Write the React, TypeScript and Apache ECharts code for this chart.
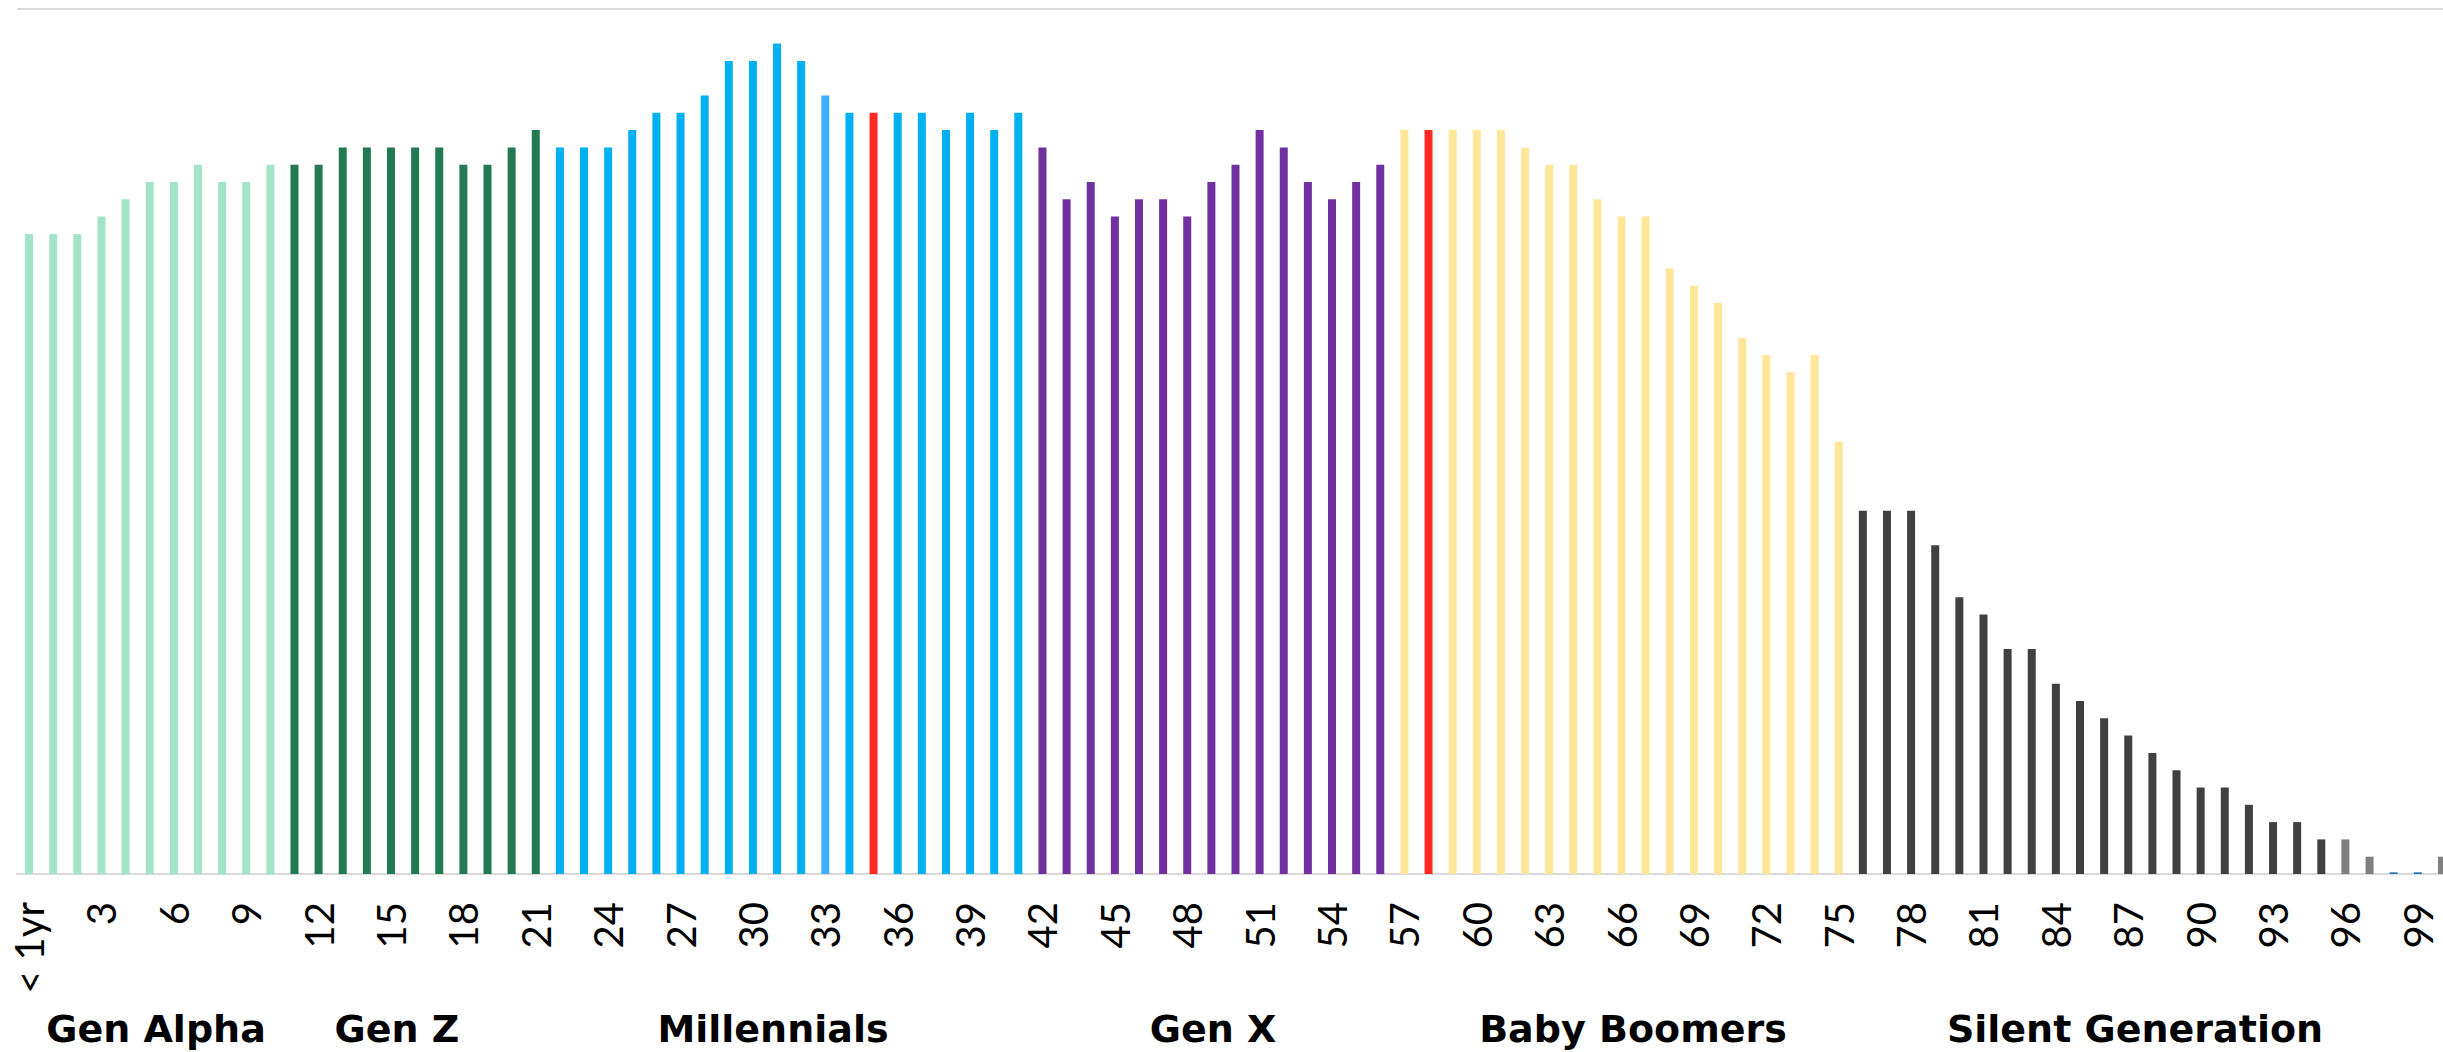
import React, { useEffect, useRef } from "react";
import * as echarts from "echarts";

// Ages 0..100 (index 0 shown as "< 1yr")
const ageLabels: string[] = Array.from({ length: 101 }, (_, i) => (i === 0 ? "< 1yr" : String(i)));

// Population by single year of age (relative units)
const genAlphaValues = [37, 37, 37, 38, 39, 40, 40, 41, 40, 40, 41]; // ages 0-10
const genZValues = [41, 41, 42, 42, 42, 42, 42, 41, 41, 42, 43]; // ages 11-21
const millennialValues = [42, 42, 42, 43, 44, 44, 45, 47, 47, 48, 47, 45, 44, 44, 44, 44, 43, 44, 43, 44]; // 22-41
const genXValues = [42, 39, 40, 38, 39, 39, 38, 40, 41, 43, 42, 40, 39, 40, 41]; // 42-56
const boomerValues = [43, 43, 43, 43, 43, 42, 41, 41, 39, 38, 38, 35, 34, 33, 31, 30, 29, 30, 25]; // 57-75
const silentValues = [21, 21, 21, 19, 16, 15, 13, 13, 11, 10, 9, 8, 7, 6, 5, 5, 4, 3, 3, 2, 2, 1, 0.1, 0.1, 1]; // 76-100

const generationNames = ["Gen Alpha", "Gen Z", "Millennials", "Gen X", "Baby Boomers", "Silent Generation"];
const generationSeries = [genAlphaValues, genZValues, millennialValues, genXValues, boomerValues, silentValues];

// Highlighted single ages
const redAges = [35, 58];
const lightBlueAges = [33];
const grayAges = [96, 97, 100];
const blueAges = [98, 99];

const generationColors = ["#A2E4C8", "#237A52", "#00B0F0", "#7030A0", "#FFE699", "#404040"];
const generationLabelX = [156, 397, 773, 1213, 1633, 2135];

export default function App() {
  const ref = useRef<HTMLDivElement>(null);

  useEffect(() => {
    if (!ref.current) return;
    document.body.style.overflow = "hidden";
    const chart = echarts.init(ref.current, undefined, { renderer: "svg" });

    const data: any[] = [];
    generationSeries.forEach((vals, g) => {
      vals.forEach((v) => {
        const age = data.length;
        let color = generationColors[g];
        if (redAges.includes(age)) color = "#FF2A22";
        else if (lightBlueAges.includes(age)) color = "#41AEFF";
        else if (grayAges.includes(age)) color = "#808080";
        else if (blueAges.includes(age)) color = "#2E75B6";
        data.push({ value: v, itemStyle: { color } });
      });
    });

    chart.setOption({
      animation: false,
      backgroundColor: "#FFFFFF",
      grid: { left: 17, right: 0, top: 9, bottom: 178, containLabel: false },
      xAxis: {
        type: "category",
        data: ageLabels,
        boundaryGap: true,
        axisLine: { show: true, lineStyle: { color: "#D9D9D9", width: 2 } },
        axisTick: { show: false },
        axisLabel: {
          interval: 2,
          rotate: 90,
          margin: 28,
          fontFamily: "Lato",
          fontSize: 40,
          color: "#000000",
        },
      },
      yAxis: {
        type: "value",
        min: 0,
        max: 50,
        interval: 50,
        axisLabel: { show: false },
        axisLine: { show: false },
        axisTick: { show: false },
        splitLine: { show: true, lineStyle: { color: "#D9D9D9", width: 2 } },
      },
      series: [
        {
          type: "bar",
          data,
          barWidth: 8,
        },
      ],
      graphic: generationNames.map((name, i) => ({
        type: "text",
        x: generationLabelX[i],
        y: 1029,
        style: {
          text: name,
          fontFamily: "DejaVu Sans",
          fontWeight: "bold",
          fontSize: 38,
          fill: "#000000",
          align: "center",
          verticalAlign: "middle",
        },
      })),
    });

    return () => chart.dispose();
  }, []);

  return (
    <div
      ref={ref}
      style={{ position: "fixed", left: 0, top: 0, width: 2454, height: 1052, overflow: "hidden" }}
    />
  );
}
